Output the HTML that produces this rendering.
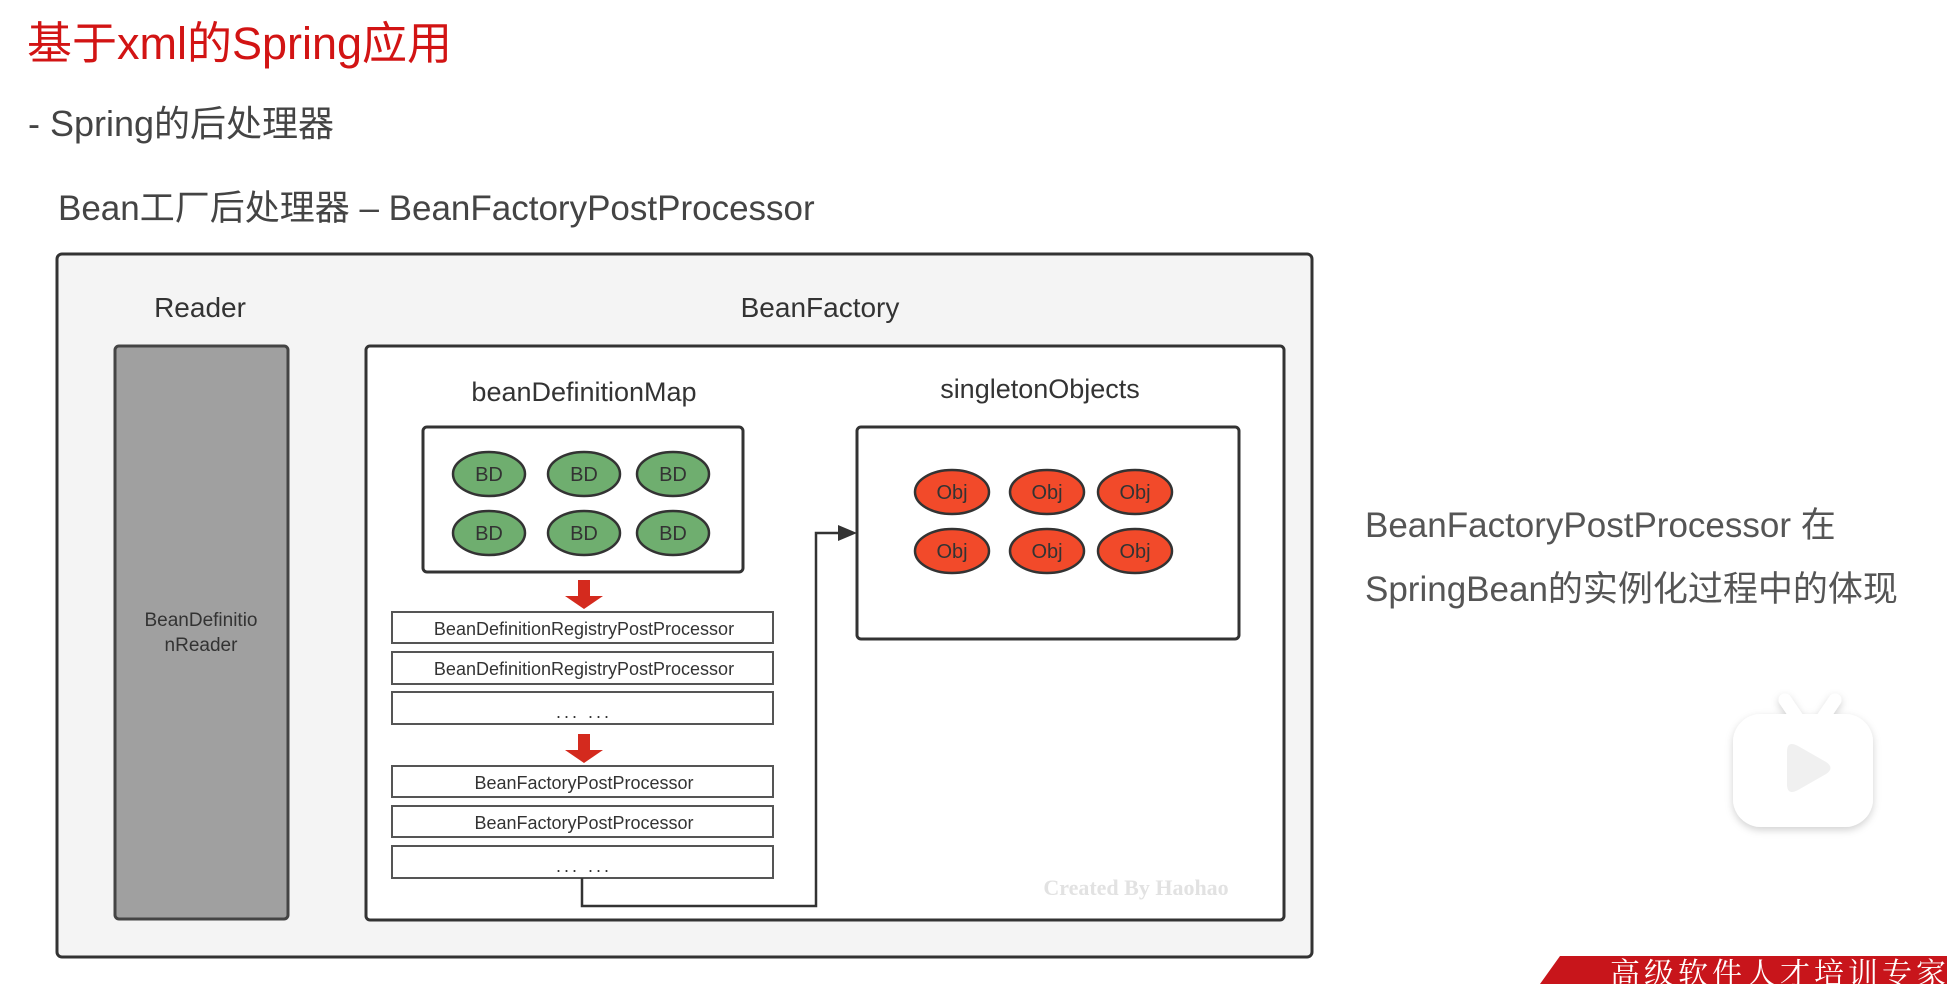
<!DOCTYPE html>
<html><head><meta charset="utf-8"><style>
html,body{margin:0;padding:0;background:#fff;width:1947px;height:984px;overflow:hidden}
svg{display:block}
</style></head><body>
<svg width="1947" height="984" viewBox="0 0 1947 984" xmlns="http://www.w3.org/2000/svg" font-family="'Liberation Sans','Noto Sans CJK SC',sans-serif">
<defs>
<filter id="sh" x="-20%" y="-20%" width="140%" height="140%"><feDropShadow dx="0" dy="3" stdDeviation="4" flood-color="#000" flood-opacity="0.18"/></filter>
</defs>
<text x="27" y="59" font-size="45" fill="#d21414">基于xml的Spring应用</text>
<text x="28" y="136" font-size="36" fill="#444">- Spring的后处理器</text>
<text x="58" y="220" font-size="35" fill="#444">Bean工厂后处理器 – BeanFactoryPostProcessor</text>

<rect x="57" y="254" width="1255" height="703" rx="5" fill="#f4f4f4" stroke="#333" stroke-width="3"/>
<text x="200" y="317" font-size="28" fill="#333" text-anchor="middle">Reader</text>
<text x="820" y="317" font-size="28" fill="#333" text-anchor="middle">BeanFactory</text>

<rect x="115" y="346" width="173" height="573" rx="4" fill="#a0a0a0" stroke="#444" stroke-width="3"/>
<text x="201" y="626" font-size="19" fill="#333" text-anchor="middle">BeanDefinitio</text>
<text x="201" y="651" font-size="19" fill="#333" text-anchor="middle">nReader</text>

<rect x="366" y="346" width="918" height="574" rx="4" fill="#fff" stroke="#333" stroke-width="3"/>
<text x="584" y="401" font-size="27" fill="#333" text-anchor="middle">beanDefinitionMap</text>
<text x="1040" y="398" font-size="27" fill="#333" text-anchor="middle">singletonObjects</text>

<rect x="423" y="427" width="320" height="145" rx="4" fill="#fff" stroke="#333" stroke-width="3"/>
<g fill="#6fae6f" stroke="#333" stroke-width="2.5">
<ellipse cx="489" cy="474" rx="36" ry="22"/><ellipse cx="584" cy="474" rx="36" ry="22"/><ellipse cx="673" cy="474" rx="36" ry="22"/>
<ellipse cx="489" cy="533" rx="36" ry="22"/><ellipse cx="584" cy="533" rx="36" ry="22"/><ellipse cx="673" cy="533" rx="36" ry="22"/>
</g>
<g font-size="20" fill="#333" text-anchor="middle">
<text x="489" y="481">BD</text><text x="584" y="481">BD</text><text x="673" y="481">BD</text>
<text x="489" y="540">BD</text><text x="584" y="540">BD</text><text x="673" y="540">BD</text>
</g>

<rect x="857" y="427" width="382" height="212" rx="4" fill="#fff" stroke="#333" stroke-width="3"/>
<g fill="#f24a2a" stroke="#333" stroke-width="2.5">
<ellipse cx="952" cy="492" rx="37" ry="22"/><ellipse cx="1047" cy="492" rx="37" ry="22"/><ellipse cx="1135" cy="492" rx="37" ry="22"/>
<ellipse cx="952" cy="551" rx="37" ry="22"/><ellipse cx="1047" cy="551" rx="37" ry="22"/><ellipse cx="1135" cy="551" rx="37" ry="22"/>
</g>
<g font-size="20" fill="#333" text-anchor="middle">
<text x="952" y="499">Obj</text><text x="1047" y="499">Obj</text><text x="1135" y="499">Obj</text>
<text x="952" y="558">Obj</text><text x="1047" y="558">Obj</text><text x="1135" y="558">Obj</text>
</g>

<g fill="#d42a1e">
<polygon points="578,580 590,580 590,596 603,596 584,609 565,596 578,596"/>
<polygon points="578,734 590,734 590,750 603,750 584,763 565,750 578,750"/>
</g>

<g fill="#fff" stroke="#555" stroke-width="2">
<rect x="392" y="612" width="381" height="31"/>
<rect x="392" y="652" width="381" height="32"/>
<rect x="392" y="692" width="381" height="32"/>
<rect x="392" y="766" width="381" height="31"/>
<rect x="392" y="806" width="381" height="31"/>
<rect x="392" y="846" width="381" height="32"/>
</g>
<g font-size="18" fill="#333" text-anchor="middle">
<text x="584" y="635">BeanDefinitionRegistryPostProcessor</text>
<text x="584" y="675">BeanDefinitionRegistryPostProcessor</text>
<text x="584" y="718" letter-spacing="3">... ...</text>
<text x="584" y="789">BeanFactoryPostProcessor</text>
<text x="584" y="829">BeanFactoryPostProcessor</text>
<text x="584" y="872" letter-spacing="3">... ...</text>
</g>

<polyline points="582,878 582,906 816,906 816,533 842,533" fill="none" stroke="#333" stroke-width="2.5"/>
<polygon points="857,533 838,525 838,541" fill="#333"/>

<text x="1136" y="895" font-size="22" font-weight="bold" font-family="'Liberation Serif',serif" fill="#e2e2e2" text-anchor="middle">Created By Haohao</text>

<text x="1365" y="537" font-size="35" fill="#555">BeanFactoryPostProcessor 在</text>
<text x="1365" y="601" font-size="35" fill="#555">SpringBean的实例化过程中的体现</text>

<g filter="url(#sh)">
<line x1="1785" y1="700" x2="1800" y2="722" stroke="#fff" stroke-width="13" stroke-linecap="round"/>
<line x1="1835" y1="700" x2="1820" y2="722" stroke="#fff" stroke-width="13" stroke-linecap="round"/>
<rect x="1733" y="714" width="140" height="113" rx="28" fill="#fff"/>
</g>
<path d="M1787,752 Q1787,740 1798,746 L1826,762 Q1835,768 1826,774 L1798,790 Q1787,796 1787,784 Z" fill="#f0f0f0"/>

<polygon points="1540,984 1560,956 1947,956 1947,984" fill="#c8151b"/>
<text x="1610" y="984" font-size="30" fill="#fff" font-family="'Noto Serif CJK SC',serif" letter-spacing="4">高级软件人才培训专家</text>
</svg>
</body></html>
